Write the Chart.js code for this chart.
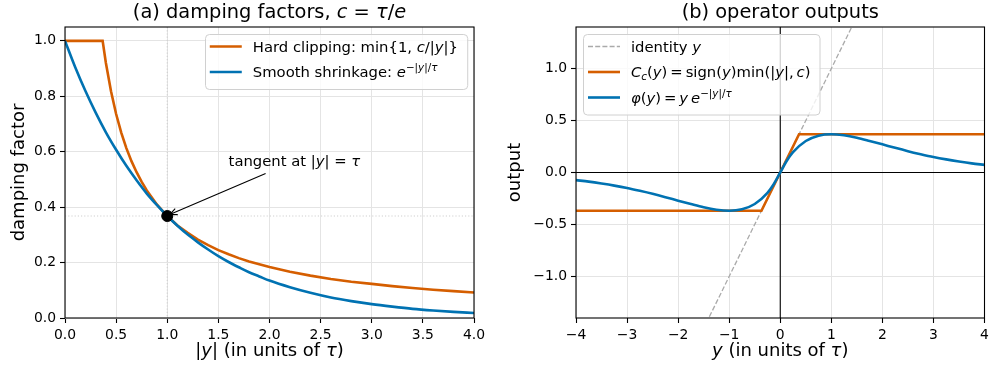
<!DOCTYPE html>
<html>
<head>
<meta charset="utf-8">
<script src="https://cdn.jsdelivr.net/npm/chart.js@4.4.1/dist/chart.umd.min.js"></script>
<style>
  body { margin: 0; background: #fff; width: 989px; height: 371px; overflow: hidden; position: relative; }
  canvas { position: absolute; top: 0; }
  #left { left: 0; }
  #right { left: 495px; }
</style>
</head>
<body>
<canvas id="left" width="490" height="371"></canvas>
<canvas id="right" width="494" height="371"></canvas>
<script>
// ---- (a) damping factors ----
const magY = [0, 0.1, 0.2, 0.3, 0.4, 0.5, 0.6, 0.7, 0.8, 0.9, 1.0, 1.1, 1.2, 1.3, 1.4, 1.5, 1.6, 1.7, 1.8, 1.9, 2.0,
              2.2, 2.4, 2.6, 2.8, 3.0, 3.2, 3.4, 3.6, 3.8, 4.0];
const smoothFactor = [1.000, 0.905, 0.819, 0.741, 0.670, 0.607, 0.549, 0.497, 0.449, 0.407, 0.368, 0.333, 0.301, 0.273, 0.247, 0.223, 0.202, 0.183, 0.165, 0.150, 0.135,
                      0.111, 0.091, 0.074, 0.061, 0.050, 0.041, 0.033, 0.027, 0.022, 0.018];
const clipMagY = [0, 0.368, 0.4, 0.45, 0.5, 0.55, 0.6, 0.65, 0.7, 0.75, 0.8, 0.9, 1.0, 1.1, 1.2, 1.3, 1.4, 1.5, 1.6, 1.7, 1.8, 1.9, 2.0,
                  2.2, 2.4, 2.6, 2.8, 3.0, 3.2, 3.4, 3.6, 3.8, 4.0];
const clipFactor = [1, 1, 0.920, 0.818, 0.736, 0.669, 0.613, 0.566, 0.526, 0.491, 0.460, 0.409, 0.368, 0.334, 0.307, 0.283, 0.263, 0.245, 0.230, 0.216, 0.204, 0.194, 0.184,
                    0.167, 0.153, 0.141, 0.131, 0.123, 0.115, 0.108, 0.102, 0.097, 0.092];
const tangentX = [1.0];
const tangentY = [0.368];
const leftXTicks = [0, 0.5, 1.0, 1.5, 2.0, 2.5, 3.0, 3.5, 4.0];
const leftYTicks = [0, 0.2, 0.4, 0.6, 0.8, 1.0];

// ---- (b) operator outputs ----
const inY = [-4, -3.75, -3.5, -3.25, -3, -2.75, -2.5, -2.25, -2, -1.75, -1.5, -1.25, -1, -0.75, -0.5, -0.25, -0.125,
             0, 0.125, 0.25, 0.5, 0.75, 1, 1.25, 1.5, 1.75, 2, 2.25, 2.5, 2.75, 3, 3.25, 3.5, 3.75, 4];
const phiOut = [-0.073, -0.088, -0.106, -0.126, -0.149, -0.176, -0.205, -0.237, -0.271, -0.304, -0.335, -0.358, -0.368, -0.354, -0.303, -0.195, -0.110,
                0, 0.110, 0.195, 0.303, 0.354, 0.368, 0.358, 0.335, 0.304, 0.271, 0.237, 0.205, 0.176, 0.149, 0.126, 0.106, 0.088, 0.073];
const clipIn = [-4, -0.368, 0.368, 4];
const clipOut = [-0.368, -0.368, 0.368, 0.368];
const identityIn = [-4, 4];
const identityOut = [-4, 4];
const rightXTicks = [-4, -3, -2, -1, 0, 1, 2, 3, 4];
const rightYTicks = [-1.0, -0.5, 0, 0.5, 1.0];

const FONT = '"DejaVu Sans", sans-serif';
const ORANGE = '#d55e00';
const BLUE = '#0072b2';
const GRID = '#e4e4e4';
const THIN = '\u2009';

Chart.defaults.font.family = FONT;
Chart.defaults.font.size = 13.9;
Chart.defaults.color = '#000';

function pts(xs, ys) { return xs.map((x, i) => ({ x: x, y: ys[i] })); }
function minus(s) { return s.replace('-', '\u2212'); }

// rich text: segments [text, flags]; flags: i = italic, ^ = superscript, _ = subscript
function segInfo(seg, size) {
  const f = seg[1] || '';
  const small = f.includes('^') || f.includes('_');
  return {
    s: small ? size * 0.7 : size,
    dy: f.includes('^') ? -size * 0.38 : (f.includes('_') ? size * 0.2 : 0),
    it: f.includes('i')
  };
}
function setFont(ctx, size, italic) {
  ctx.font = (italic ? 'oblique ' : '') + size + 'px ' + FONT;
}
function richWidth(ctx, segs, size) {
  let w = 0;
  segs.forEach(seg => {
    const g = segInfo(seg, size);
    setFont(ctx, g.s, g.it);
    w += ctx.measureText(seg[0]).width;
  });
  return w;
}
function drawRich(ctx, segs, x, y, size, align) {
  const w = richWidth(ctx, segs, size);
  let cx = align === 'center' ? x - w / 2 : (align === 'right' ? x - w : x);
  ctx.textAlign = 'left';
  ctx.textBaseline = 'alphabetic';
  ctx.fillStyle = '#000';
  segs.forEach(seg => {
    const g = segInfo(seg, size);
    setFont(ctx, g.s, g.it);
    ctx.fillText(seg[0], cx, y + g.dy);
    cx += ctx.measureText(seg[0]).width;
  });
}

function drawLegend(chart, lg) {
  const ctx = chart.ctx, a = chart.chartArea;
  const size = 14.8, rowH = 25.5;
  const tw = Math.max(...lg.items.map(it => richWidth(ctx, it.label, size)));
  const w = 48 + tw + 9, h = lg.items.length * rowH + 4;
  const x0 = lg.side === 'right' ? a.right - 7 - w : a.left + 7;
  const y0 = a.top + 7;
  ctx.save();
  ctx.beginPath();
  ctx.roundRect(Math.round(x0) + 0.5, y0 + 0.5, w, h, 4);
  ctx.fillStyle = 'rgba(255,255,255,0.8)';
  ctx.fill();
  ctx.strokeStyle = '#d0d0d0';
  ctx.lineWidth = 1;
  ctx.stroke();
  lg.items.forEach((it, i) => {
    const yc = y0 + 12.5 + i * rowH;
    ctx.beginPath();
    ctx.setLineDash(it.dash || []);
    ctx.strokeStyle = it.color;
    ctx.lineWidth = it.width;
    ctx.moveTo(x0 + 5, yc);
    ctx.lineTo(x0 + 37, yc);
    ctx.stroke();
    ctx.setLineDash([]);
    drawRich(ctx, it.label, x0 + 48, yc + size * 0.34, size, 'left');
  });
  ctx.restore();
}

function decorPlugin(cfg) {
  return {
    id: 'decor',
    beforeDatasetsDraw(chart) {
      if (cfg.under) cfg.under(chart);
    },
    afterDatasetsDraw(chart) {
      const ctx = chart.ctx, a = chart.chartArea;
      ctx.save();
      ctx.strokeStyle = '#000';
      ctx.lineWidth = 1.1;
      ctx.strokeRect(a.left, a.top, a.right - a.left, a.bottom - a.top);
      ctx.restore();
    },
    afterDraw(chart) {
      const ctx = chart.ctx, a = chart.chartArea;
      const cx = (a.left + a.right) / 2;
      ctx.save();
      drawRich(ctx, cfg.title, cx, 17.5, 19.4, 'center');
      drawRich(ctx, cfg.xlabel, cx, 356, 18, 'center');
      ctx.translate(cfg.ylabelX, (a.top + a.bottom) / 2);
      ctx.rotate(-Math.PI / 2);
      drawRich(ctx, [[cfg.ylabel, '']], 0, 0, 18, 'center');
      ctx.restore();
      if (cfg.over) cfg.over(chart);
      drawLegend(chart, cfg.legend);
    }
  };
}

function axis(min, max, tickList, fmt, fitSize, isX) {
  return {
    type: 'linear',
    min: min,
    max: max,
    afterBuildTicks: s => { s.ticks = tickList.map(v => ({ value: v })); },
    afterFit: s => {
      if (isX) { s.height = fitSize; s.paddingLeft = 0; s.paddingRight = 0; }
      else { s.width = fitSize; s.paddingTop = 0; s.paddingBottom = 0; }
    },
    grid: { color: GRID, lineWidth: 1, drawTicks: true, tickColor: '#000', tickLength: 5, tickWidth: 1.1 },
    border: { display: false },
    ticks: {
      color: '#000',
      font: { family: FONT, size: 13.9 },
      padding: 4,
      autoSkip: false,
      maxRotation: 0,
      callback: v => fmt(v)
    }
  };
}

const lineStyle = { pointRadius: 0, showLine: true, borderWidth: 2.6, fill: false };

// ---------- left chart ----------
new Chart(document.getElementById('left'), {
  type: 'scatter',
  data: {
    datasets: [
      { label: 'tangent', data: pts(tangentX, tangentY), pointRadius: 5.5, pointBackgroundColor: '#000', pointBorderColor: '#000', showLine: false, order: 0 },
      Object.assign({ label: 'Smooth shrinkage', data: pts(magY, smoothFactor), borderColor: BLUE, cubicInterpolationMode: 'monotone', order: 1 }, lineStyle),
      Object.assign({ label: 'Hard clipping', data: pts(clipMagY, clipFactor), borderColor: ORANGE, tension: 0, order: 2 }, lineStyle)
    ]
  },
  options: {
    responsive: false,
    animation: false,
    events: [],
    layout: { padding: { top: 27, right: 16, left: 0, bottom: 0 } },
    plugins: { legend: { display: false }, tooltip: { enabled: false } },
    scales: {
      x: axis(0, 4, leftXTicks, v => v.toFixed(1), 53, true),
      y: axis(0, 1.05, leftYTicks, v => v.toFixed(1), 65, false)
    }
  },
  plugins: [decorPlugin({
    title: [['(a) damping factors, ', ''], ['c', 'i'], [' = ', ''], ['\u03c4', 'i'], ['/', ''], ['e', 'i']],
    xlabel: [['|', ''], ['y', 'i'], ['| (in units of ', ''], ['\u03c4', 'i'], [')', '']],
    ylabel: 'damping factor',
    ylabelX: 24,
    under(chart) {
      const ctx = chart.ctx, a = chart.chartArea, sx = chart.scales.x, sy = chart.scales.y;
      const px = sx.getPixelForValue(tangentX[0]), py = sy.getPixelForValue(tangentY[0]);
      ctx.save();
      ctx.strokeStyle = '#cfcfcf';
      ctx.lineWidth = 1.1;
      ctx.setLineDash([1.2, 2]);
      ctx.beginPath();
      ctx.moveTo(px, a.top); ctx.lineTo(px, a.bottom);
      ctx.moveTo(a.left, py); ctx.lineTo(a.right, py);
      ctx.stroke();
      ctx.restore();
    },
    over(chart) {
      const ctx = chart.ctx, sx = chart.scales.x, sy = chart.scales.y;
      const tx = sx.getPixelForValue(1.6), ty = sy.getPixelForValue(0.55);
      drawRich(ctx, [['tangent at |', ''], ['y', 'i'], ['| = ', ''], ['\u03c4', 'i']], tx, ty, 14.8, 'left');
      const px = sx.getPixelForValue(tangentX[0]) + 2.5, py = sy.getPixelForValue(tangentY[0]) - 1.5;
      const qx = tx + 37, qy = ty + 8;
      const ang = Math.atan2(py - qy, px - qx);
      ctx.save();
      ctx.strokeStyle = '#000';
      ctx.lineWidth = 1.1;
      ctx.beginPath();
      ctx.moveTo(qx, qy); ctx.lineTo(px, py);
      ctx.moveTo(px - 8 * Math.cos(ang - 0.42), py - 8 * Math.sin(ang - 0.42));
      ctx.lineTo(px, py);
      ctx.lineTo(px - 8 * Math.cos(ang + 0.42), py - 8 * Math.sin(ang + 0.42));
      ctx.stroke();
      ctx.restore();
    },
    legend: {
      side: 'right',
      items: [
        { color: ORANGE, width: 2.6, label: [['Hard clipping: min{1, ', ''], ['c', 'i'], ['/|', ''], ['y', 'i'], ['|}', '']] },
        { color: BLUE, width: 2.6, label: [['Smooth shrinkage: ', ''], ['e', 'i'], ['\u2212|', '^'], ['y', 'i^'], ['|/', '^'], ['\u03c4', 'i^']] }
      ]
    }
  })]
});

// ---------- right chart ----------
new Chart(document.getElementById('right'), {
  type: 'scatter',
  data: {
    datasets: [
      Object.assign({ label: 'phi', data: pts(inY, phiOut), borderColor: BLUE, cubicInterpolationMode: 'monotone', order: 1 }, lineStyle),
      Object.assign({ label: 'clip', data: pts(clipIn, clipOut), borderColor: ORANGE, tension: 0, order: 2 }, lineStyle),
      { label: 'identity', data: pts(identityIn, identityOut), borderColor: '#aaaaaa', borderWidth: 1.3, borderDash: [5, 2.2], pointRadius: 0, showLine: true, fill: false, order: 3 }
    ]
  },
  options: {
    responsive: false,
    animation: false,
    events: [],
    layout: { padding: { top: 27, right: 4.5, left: 0, bottom: 0 } },
    plugins: { legend: { display: false }, tooltip: { enabled: false } },
    scales: {
      x: axis(-4, 4, rightXTicks, v => minus(String(v)), 53, true),
      y: axis(-1.4, 1.4, rightYTicks, v => minus(v.toFixed(1)), 81, false)
    }
  },
  plugins: [decorPlugin({
    title: [['(b) operator outputs', '']],
    xlabel: [['y', 'i'], [' (in units of ', ''], ['\u03c4', 'i'], [')', '']],
    ylabel: 'output',
    ylabelX: 24.5,
    under(chart) {
      const ctx = chart.ctx, a = chart.chartArea, sx = chart.scales.x, sy = chart.scales.y;
      const zx = sx.getPixelForValue(0), zy = sy.getPixelForValue(0);
      ctx.save();
      ctx.strokeStyle = '#000';
      ctx.lineWidth = 1.1;
      ctx.beginPath();
      ctx.moveTo(a.left, zy); ctx.lineTo(a.right, zy);
      ctx.moveTo(zx, a.top); ctx.lineTo(zx, a.bottom);
      ctx.stroke();
      ctx.restore();
    },
    legend: {
      side: 'left',
      items: [
        { color: '#aaaaaa', width: 1.3, dash: [5, 2.2], label: [['identity ', ''], ['y', 'i']] },
        { color: ORANGE, width: 2.6, label: [['C', 'i'], ['c', 'i_'], ['(', ''], ['y', 'i'], [')' + THIN + '=' + THIN + 'sign(', ''], ['y', 'i'], [')min(|', ''], ['y', 'i'], ['|,' + THIN, ''], ['c', 'i'], [')', '']] },
        { color: BLUE, width: 2.6, label: [['\u03c6', 'i'], ['(', ''], ['y', 'i'], [')' + THIN + '=' + THIN, ''], ['y', 'i'], [THIN, ''], ['e', 'i'], ['\u2212|', '^'], ['y', 'i^'], ['|/', '^'], ['\u03c4', 'i^']] }
      ]
    }
  })]
});
</script>
</body>
</html>
